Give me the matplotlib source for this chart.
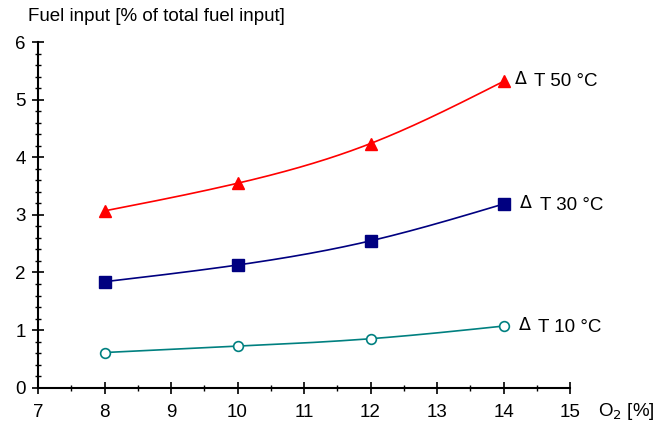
import numpy as np
import matplotlib.pyplot as plt
from matplotlib.ticker import MultipleLocator

plt.rcParams['font.family'] = ['Liberation Sans', 'DejaVu Sans']

o2 = [8, 10, 12, 14]
dt50 = [3.07, 3.55, 4.24, 5.32]
dt30 = [1.84, 2.13, 2.55, 3.19]
dt10 = [0.61, 0.72, 0.85, 1.07]


def spline(x, y, n=200):
    # natural cubic spline through the points
    x = np.asarray(x, float)
    y = np.asarray(y, float)
    h = np.diff(x)
    m = len(x)
    A = np.zeros((m, m))
    b = np.zeros(m)
    A[0, 0] = A[-1, -1] = 1
    for i in range(1, m - 1):
        A[i, i - 1] = h[i - 1]
        A[i, i] = 2 * (h[i - 1] + h[i])
        A[i, i + 1] = h[i]
        b[i] = 6 * ((y[i + 1] - y[i]) / h[i] - (y[i] - y[i - 1]) / h[i - 1])
    M = np.linalg.solve(A, b)
    xs = np.linspace(x[0], x[-1], n)
    idx = np.clip(np.searchsorted(x, xs) - 1, 0, m - 2)
    x0, x1 = x[idx], x[idx + 1]
    hh = x1 - x0
    t0, t1 = x1 - xs, xs - x0
    ys = (M[idx] * t0**3 + M[idx + 1] * t1**3) / (6 * hh) \
        + (y[idx] / hh - M[idx] * hh / 6) * t0 \
        + (y[idx + 1] / hh - M[idx + 1] * hh / 6) * t1
    return xs, ys


fig = plt.figure(figsize=(6.56, 4.26), dpi=100)
ax = fig.add_axes([0.058, 0.09, 0.811, 0.811])

fs = 13.5
series = [
    (dt50, '#ff0000', '^', 'full', (8, 1)),
    (dt30, '#000080', 's', 'full', (12, 0)),
    (dt10, '#008080', 'o', 'none', (11, 0)),
]
labels = ['T 50 °C', 'T 30 °C', 'T 10 °C']
for (ys, col, mk, fill, off), lab in zip(series, labels):
    sx, sy = spline(o2, ys)
    ax.plot(sx, sy, color=col, lw=1.2)
    if fill == 'none':
        ax.plot(o2, ys, ls='none', marker=mk, ms=7, mfc='white', mec=col, mew=1.2)
    else:
        ax.plot(o2, ys, ls='none', marker=mk, ms=8, color=col)
    base = off[1] - 4.6
    ax.annotate('Δ', (o2[-1], ys[-1]), xytext=(off[0], base + 1.6), textcoords='offset points',
                fontsize=12.5, family='DejaVu Sans', va='baseline', ha='left')
    ax.annotate(lab, (o2[-1], ys[-1]), xytext=(off[0] + 14, base), textcoords='offset points',
                fontsize=fs, va='baseline', ha='left')

ax.set_xlim(7, 15)
ax.set_ylim(0, 6)
ax.xaxis.set_major_locator(MultipleLocator(1))
ax.xaxis.set_minor_locator(MultipleLocator(0.5))
ax.yaxis.set_major_locator(MultipleLocator(1))
ax.yaxis.set_minor_locator(MultipleLocator(0.2))
ax.tick_params(which='major', direction='inout', length=8, width=1.2, labelsize=fs)
ax.tick_params(axis='x', which='major', pad=8)
ax.tick_params(axis='y', which='major', pad=5)
ax.tick_params(which='minor', direction='inout', length=5, width=1)
for s in ['top', 'right']:
    ax.spines[s].set_visible(False)
for s in ['left', 'bottom']:
    ax.spines[s].set_linewidth(1.5)

fig.text(0.043, 0.962, 'Fuel input [% of total fuel input]', fontsize=fs, va='center', ha='left')
fig.text(0.911, 0.035, 'O$_2$ [%]', fontsize=fs, va='center', ha='left')

fig.savefig('out.png', dpi=100)
